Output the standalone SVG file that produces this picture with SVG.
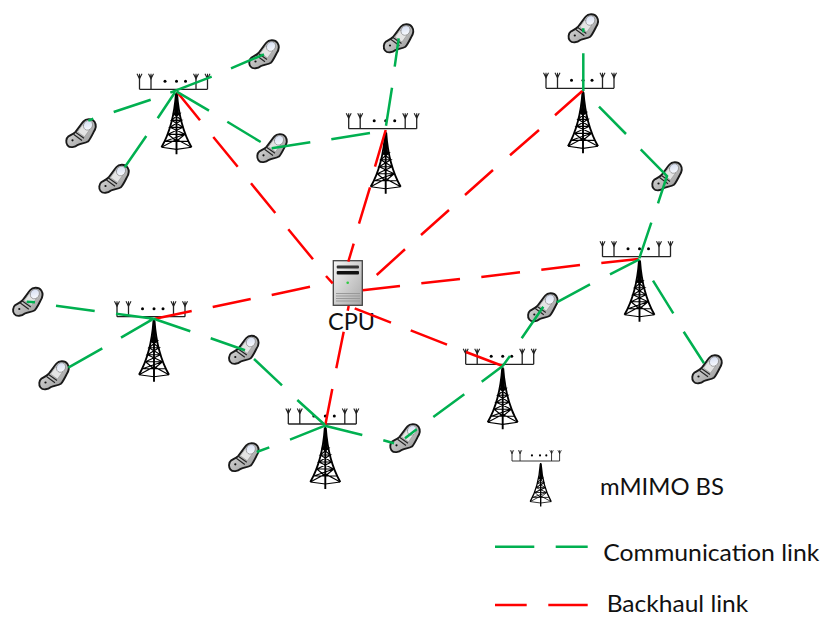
<svg xmlns="http://www.w3.org/2000/svg" width="821" height="617" viewBox="0 0 821 617">
<style>
.g{stroke:#00B050;stroke-width:2.5;fill:none}
.r{stroke:#FF0000;stroke-width:2.5;fill:none}
.t{font-family:"Lato","Open Sans",sans-serif;fill:#111}
.bar{stroke:#222;stroke-width:1.3;fill:none}
.tw{stroke:#000;fill:none}
</style>
<defs>
<linearGradient id="ph" x1="0" y1="0" x2="1" y2="1"><stop offset="0" stop-color="#ececec"/><stop offset="1" stop-color="#8f8f8f"/></linearGradient>
<linearGradient id="scr" x1="0" y1="0" x2="1" y2="1"><stop offset="0" stop-color="#cfd9f0"/><stop offset="1" stop-color="#ffffff"/></linearGradient>
<linearGradient id="srv" x1="0" y1="0" x2="1" y2="1"><stop offset="0" stop-color="#f6f6f6"/><stop offset="1" stop-color="#a8a8a8"/></linearGradient>
<g id="phone">
<path d="M2.5,-12 C5,-15 11,-15 13.5,-11.5 C15.5,-8.5 14.5,-4 12.5,-1 C10.5,3 9,6 7,8.2 C4,10 0,10 -3,11.5 C-6,14 -11,15 -13.5,12 C-15.5,9.5 -15,5 -12.5,3 C-10,1.5 -7.5,0.5 -5.5,-1.5 C-2.5,-5 0,-9 2.5,-12 Z" fill="url(#ph)" stroke="#1a1a1a" stroke-width="1.9" stroke-linejoin="round"/>
<path d="M-3.5,-1.5 L1.5,-8.5 L8.5,-3.5 L3.5,3.5 Z" fill="#e4e4e4" stroke="#888" stroke-width=".5"/>
<ellipse cx="7" cy="-8" rx="4.3" ry="5" transform="rotate(35 7 -8)" fill="url(#scr)" stroke="#666" stroke-width=".5"/>
<path d="M-5.5,-1 L3,5 M-7.5,1 L1,7.2" stroke="#222" stroke-width="1.1" fill="none"/>
<circle cx="-8.5" cy="7" r="1.1" fill="#111"/>
</g>
<g id="ant">
<path class="bar" d="M-37,0H31M-37,0V-14M-25.5,0V-14M19.5,0V-14M31,0V-14"/>
<path d="M-39.5,-15.5L-37,-10.5L-34.5,-15.5M-37,-15.5V-10.5M-28,-15.5L-25.5,-10.5L-23,-15.5M-25.5,-15.5V-10.5M17,-15.5L19.5,-10.5L22,-15.5M19.5,-15.5V-10.5M28.5,-15.5L31,-10.5L33.5,-15.5M31,-15.5V-10.5" stroke="#222" stroke-width="1.1" fill="none"/>
</g>
<g id="dots"><circle cx="-11.5" cy="-8" r="1.5"/><circle cx="0" cy="-8" r="1.5"/><circle cx="9" cy="-8" r="1.5"/></g>
<g id="tower">
<path d="M0,3 L-2.6,26 L2.6,26 Z" fill="#000"/>
<path class="tw" stroke-width="1.9" d="M-0.5,4 C-2,25 -7,44 -15,58 M0.5,4 C2,25 7,44 15,58 M0,3V65"/>
<path class="tw" stroke-width="1.15" d="M-3.5,24H3.5L-5,31H5L-6.5,38H6.5L-8.5,45H8.5L-11.5,52H11.5M-3.5,24L5,31M3.5,24L-5,31M-5,31L6.5,38M5,31L-6.5,38M-6.5,38L8.5,45M6.5,38L-8.5,45M-8.5,45L0,52M8.5,45L0,52M-15,58L0,50L15,58M-15,58L0,60L15,58"/>
</g>
<g id="bs"><use href="#ant"/><use href="#dots"/><use href="#tower"/></g>
</defs>

<g id="bs1" transform="translate(176.5,89.3)"><use href="#bs"/></g>
<g id="bs2" transform="translate(385.7,128.7)"><use href="#bs"/></g>
<g id="bs3" transform="translate(583,88.3)"><use href="#bs"/></g>
<g id="bs4" transform="translate(639.5,256.7)"><use href="#bs"/></g>
<g id="bs5" transform="translate(502.7,364.3)"><use href="#bs"/></g>
<g id="bs6" transform="translate(325.3,424)"><use href="#bs"/></g>
<g id="bs7" transform="translate(154,316.7)"><use href="#bs"/></g>

<g id="ue1" transform="translate(264,54.5)"><use href="#phone"/></g>
<g id="ue2" transform="translate(398.5,38.5)"><use href="#phone"/></g>
<g id="ue3" transform="translate(583.3,28.5)"><use href="#phone"/></g>
<g id="ue4" transform="translate(667,176.5)"><use href="#phone"/></g>
<g id="ue5" transform="translate(81,133.3)"><use href="#phone"/></g>
<g id="ue6" transform="translate(114,179)"><use href="#phone"/></g>
<g id="ue7" transform="translate(272,148.3)"><use href="#phone"/></g>
<g id="ue8" transform="translate(27.8,302)"><use href="#phone"/></g>
<g id="ue9" transform="translate(54,375.5)"><use href="#phone"/></g>
<g id="ue10" transform="translate(243.8,350)"><use href="#phone"/></g>
<g id="ue11" transform="translate(243.8,457.3)"><use href="#phone"/></g>
<g id="ue12" transform="translate(405,438.3)"><use href="#phone"/></g>
<g id="ue13" transform="translate(542.8,307.5)"><use href="#phone"/></g>
<g id="ue14" transform="translate(707,369.5)"><use href="#phone"/></g>

<g id="cpu">
<rect x="333.3" y="260.7" width="29" height="44.6" fill="url(#srv)" stroke="#444" stroke-width="1.3"/>
<rect x="336.7" y="265.5" width="22.3" height="3" rx="1" fill="#333"/>
<rect x="336.7" y="271" width="22.3" height="3.6" rx="1" fill="#111"/>
<circle cx="347.7" cy="282.7" r="1.3" fill="#2ecc40"/>
<path d="M336,293.5H360M336,296H360M336,298.5H360M336,301H360" stroke="#999" stroke-width="1"/>
<text class="t" x="351.5" y="329.5" font-size="23.5" text-anchor="middle">CPU</text>
</g>

<g id="connectors">
<path class="r" d="M177.3,92.3L200,120.3M213.3,137L237.7,166.7M251,183.3L275.3,213M288.3,229.3L313,259.3M326,276L332.7,283.3
M385.7,130L375,166.7M370,187.3L359,223.7M353.7,243.7L348.3,261.7
M582.3,91L555,115.3M539,130L510,155.3M493,170L465,195M449,210L421,235M405,249.3L376.7,275
M362.7,290.3L400,286M421.3,283.3L460,279M481.3,277L520,272.3M541.3,269.7L580,265M601.3,263L638.3,259
M354.7,308.3L391,322.7M410.7,330.3L447,344.7M466,352L502.7,366
M348.7,306L347.7,310.7M343.7,331.7L336.3,368.3M332.3,389L325.3,425
M310,286.7L271.7,295M250.7,299L212.7,307M191.7,311L155,318.7"/>
<path class="g" d="M170.3,92.7L211.7,76.7M231,68.3L264,54.3
M150.7,99.7L113.7,112M93.3,118.7L88.3,120.7
M175,92.3L157.7,118.3M146.3,136L124.7,167.3
M176.7,91.7L209,110.7M227.3,121.7L260.7,142
M370,133L331.3,139.3M310.3,142.3L271.7,148.3
M386,125.7L392,87.7M394.7,66.7L398.7,38.3
M583.3,91L583.3,53.3M583.3,32.3L583.3,28.3
M599,106.7L626,134M640.7,149.3L667,176L658,203.3M651.3,222.7L639.3,258.3
M639.3,259.3L610,274.3M590,284.3L556.7,302.3M543.3,306.7L521.7,338.3M510,356L502.7,366
M653,280.7L673.3,313.3M683.7,331.7L704,363.3
M502.7,366L481.7,381.7M464.3,394.3L433.3,417M416.7,429.3L405,438.3M394,443.3L383.3,440.3M362.3,435L325,425.7
M325,425.7L290,439.7M269.3,447.3L256.7,452
M325,425L297.3,400M282,385.3L254,359M245,350.3L210.7,338.3M190.3,331.3L153.7,318.7
M153.7,318.7L116,313.7M94.7,311L56,305.7M35,302.3L26.7,301.7
M153.7,318.7L121,337.7M102.3,348.3L68.3,367.7"/>
</g>

<g id="legend">
<g id="legend-bs">
<g transform="translate(537.9,461) scale(.7)"><use href="#ant"/></g>
<g transform="translate(540,461) scale(.7)"><use href="#dots"/></g>
<g transform="translate(540.7,461) scale(.7)"><use href="#tower"/></g>
</g>
<text class="t" x="600" y="495" font-size="22.5" textLength="124" lengthAdjust="spacingAndGlyphs">mMIMO BS</text>
<path class="g" d="M495,546.7H534.3M555.7,546.7H587.7"/>
<text class="t" x="603.3" y="560.7" font-size="23.5" textLength="216" lengthAdjust="spacingAndGlyphs">Communication link</text>
<path class="r" d="M495,605H526.7M548.3,605H587.7"/>
<text class="t" x="606.7" y="612.3" font-size="23.5" textLength="141.6" lengthAdjust="spacingAndGlyphs">Backhaul link</text>
</g>
</svg>
